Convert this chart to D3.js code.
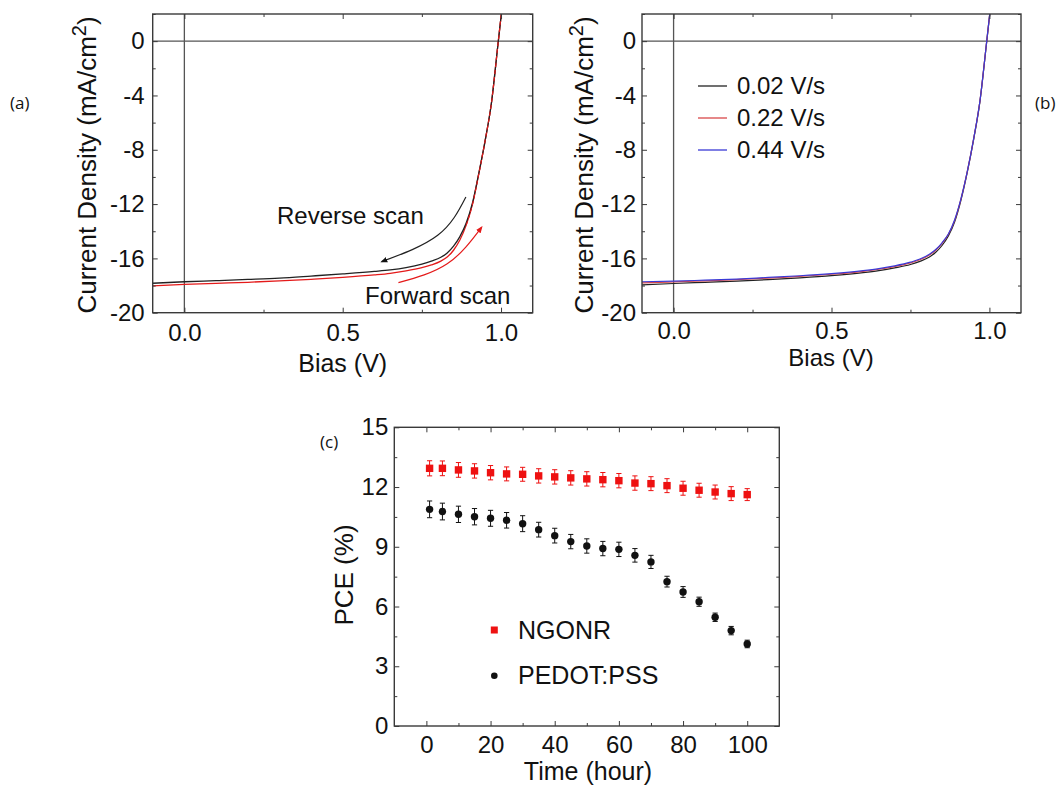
<!DOCTYPE html>
<html>
<head>
<meta charset="utf-8">
<script src="https://cdn.jsdelivr.net/npm/d3@7/dist/d3.min.js"></script>
<style>
  html, body { margin: 0; padding: 0; background: #fff; }
  svg { display: block; }
  text { font-family: "Liberation Sans", Arial, sans-serif; fill: #111; }
  .panel-tag { font-family: "Open Sans", "Noto Sans", sans-serif; font-size: 17px; }
</style>
</head>
<body>
<svg id="chart" width="1062" height="786"></svg>
<script>
// ---------------- DATA ----------------
// Panel (a): J-V curves, reverse vs forward scan
const biasA = [-0.1, 0.0, 0.1, 0.2, 0.3, 0.4, 0.5, 0.6, 0.65, 0.7, 0.75, 0.78, 0.81, 0.83, 0.85, 0.87, 0.89, 0.91, 0.93, 0.95, 0.97, 0.99, 1.0, 1.006];
const reverseJ = [-17.83, -17.72, -17.64, -17.55, -17.45, -17.30, -17.14, -16.96, -16.85, -16.68, -16.42, -16.20, -15.92, -15.60, -15.10, -14.40, -13.40, -11.90, -9.70, -7.30, -4.50, -0.30, 1.80, 3.00];
const forwardJ = [-18.03, -17.92, -17.84, -17.76, -17.66, -17.54, -17.40, -17.22, -17.10, -16.92, -16.68, -16.48, -16.20, -15.90, -15.40, -14.65, -13.55, -12.00, -9.75, -7.30, -4.50, -0.30, 1.80, 3.00];
// arrow annotations (bias, J)
const reverseArrow = [[0.889, -11.48], [0.80, -14.30], [0.623, -16.24]];
const forwardArrow = [[0.676, -17.79], [0.83, -16.40], [0.939, -13.70]];

// Panel (b): J-V curves at different scan rates
const biasB = [-0.1, 0.0, 0.1, 0.2, 0.3, 0.4, 0.5, 0.6, 0.65, 0.7, 0.75, 0.78, 0.81, 0.83, 0.85, 0.87, 0.89, 0.91, 0.93, 0.95, 0.97, 0.99, 1.0, 1.006];
const j002 = [-17.95, -17.85, -17.76, -17.67, -17.56, -17.43, -17.27, -17.05, -16.90, -16.70, -16.45, -16.22, -15.90, -15.55, -15.05, -14.35, -13.30, -11.70, -9.65, -7.25, -4.45, -0.35, 1.75, 3.00];
const j022 = [-17.80, -17.73, -17.65, -17.57, -17.45, -17.33, -17.17, -16.95, -16.80, -16.60, -16.33, -16.10, -15.75, -15.40, -14.90, -14.22, -13.20, -11.62, -9.60, -7.20, -4.40, -0.30, 1.80, 3.00];
const j044 = [-17.72, -17.68, -17.60, -17.52, -17.40, -17.28, -17.12, -16.90, -16.75, -16.55, -16.28, -16.05, -15.70, -15.35, -14.85, -14.20, -13.15, -11.60, -9.60, -7.20, -4.40, -0.30, 1.80, 3.00];
const rateLabels = ["0.02 V/s", "0.22 V/s", "0.44 V/s"];

// Panel (c): PCE vs time
const timeH = [1, 5, 10, 15, 20, 25, 30, 35, 40, 45, 50, 55, 60, 65, 70, 75, 80, 85, 90, 95, 100];
const pceNGONR = [12.94, 12.94, 12.86, 12.81, 12.72, 12.66, 12.64, 12.56, 12.51, 12.46, 12.41, 12.37, 12.32, 12.20, 12.17, 12.07, 11.94, 11.84, 11.75, 11.67, 11.62];
const errNGONR = [0.38, 0.37, 0.37, 0.36, 0.36, 0.35, 0.35, 0.36, 0.36, 0.36, 0.36, 0.36, 0.36, 0.36, 0.35, 0.35, 0.35, 0.35, 0.35, 0.35, 0.30];
const pcePEDOT = [10.88, 10.77, 10.63, 10.51, 10.43, 10.33, 10.16, 9.86, 9.56, 9.26, 9.04, 8.91, 8.87, 8.57, 8.24, 7.25, 6.73, 6.24, 5.46, 4.79, 4.12];
const errPEDOT = [0.42, 0.42, 0.41, 0.41, 0.40, 0.39, 0.40, 0.37, 0.37, 0.36, 0.36, 0.36, 0.36, 0.34, 0.33, 0.27, 0.27, 0.23, 0.21, 0.21, 0.19];
const seriesC = ["NGONR", "PEDOT:PSS"];

// tick values
const jvXTicks = [0.0, 0.5, 1.0];
const jvXMinor = [0.25, 0.75];
const jvYTicks = [0, -4, -8, -12, -16, -20];
const jvYMinor = [2, -2, -6, -10, -14, -18];
const cXTicks = [0, 20, 40, 60, 80, 100];
const cXMinor = [10, 30, 50, 70, 90];
const cYTicks = [0, 3, 6, 9, 12, 15];
const cYMinor = [1.5, 4.5, 7.5, 10.5, 13.5];

// ---------------- DRAW ----------------
const svg = d3.select("#chart");
svg.append("rect").attr("width", 1062).attr("height", 786).attr("fill", "#fff");

const defs = svg.append("defs");
function addArrowMarker(id, color) {
  defs.append("marker").attr("id", id)
    .attr("viewBox", "0 0 10 10").attr("refX", 8).attr("refY", 5)
    .attr("markerWidth", 7).attr("markerHeight", 7)
    .attr("markerUnits", "userSpaceOnUse")
    .attr("orient", "auto")
    .append("path").attr("d", "M0,1 L10,5 L0,9 Z").attr("fill", color);
}
addArrowMarker("arrBlack", "#111");
addArrowMarker("arrRed", "#e41a1a");

const BOX = "#3a3a3a";

function frame(g, x, y, o) {
  const [x0, x1] = x.range();
  const [y0, y1] = y.range();
  // minor ticks
  g.append("g").attr("transform", `translate(0,${y0})`)
    .call(d3.axisBottom(x).tickValues(o.xMinor).tickSize(-3).tickFormat(""))
    .call(s => s.select(".domain").remove());
  g.append("g").attr("transform", `translate(0,${y1})`)
    .call(d3.axisTop(x).tickValues(o.xMinor).tickSize(-3).tickFormat(""))
    .call(s => s.select(".domain").remove());
  g.append("g").attr("transform", `translate(${x0},0)`)
    .call(d3.axisLeft(y).tickValues(o.yMinor).tickSize(-3).tickFormat(""))
    .call(s => s.select(".domain").remove());
  g.append("g").attr("transform", `translate(${x1},0)`)
    .call(d3.axisRight(y).tickValues(o.yMinor).tickSize(-3).tickFormat(""))
    .call(s => s.select(".domain").remove());
  // major ticks with labels
  const bx = g.append("g").attr("transform", `translate(0,${y0})`)
    .call(d3.axisBottom(x).tickValues(o.xTicks).tickSize(-5).tickPadding(o.xPad).tickFormat(o.xFmt));
  bx.select(".domain").remove();
  bx.selectAll("text").attr("font-size", o.tickFont).attr("font-family", "Liberation Sans, Arial, sans-serif").attr("fill", "#111");
  const ly = g.append("g").attr("transform", `translate(${x0},0)`)
    .call(d3.axisLeft(y).tickValues(o.yTicks).tickSize(-5).tickPadding(o.yPad).tickFormat(o.yFmt));
  ly.select(".domain").remove();
  ly.selectAll("text").attr("font-size", o.tickFont).attr("font-family", "Liberation Sans, Arial, sans-serif").attr("fill", "#111");
  g.append("g").attr("transform", `translate(0,${y1})`)
    .call(d3.axisTop(x).tickValues(o.xTicks).tickSize(-5).tickFormat(""))
    .call(s => s.select(".domain").remove());
  g.append("g").attr("transform", `translate(${x1},0)`)
    .call(d3.axisRight(y).tickValues(o.yTicks).tickSize(-5).tickFormat(""))
    .call(s => s.select(".domain").remove());
  g.selectAll(".tick line").attr("stroke", BOX).attr("stroke-width", 1);
  // box
  g.append("rect").attr("x", x0).attr("y", y1).attr("width", x1 - x0).attr("height", y0 - y1)
    .attr("fill", "none").attr("stroke", BOX).attr("stroke-width", 1.4);
}

function yLabelJ(g, cx, cy) {
  const t = g.append("text").attr("transform", `translate(${cx},${cy}) rotate(-90)`)
    .attr("text-anchor", "middle").attr("font-size", 26);
  t.append("tspan").text("Current Density (mA/cm");
  t.append("tspan").attr("font-size", 20).attr("dy", -10).text("2");
  t.append("tspan").attr("dy", 10).text(")");
}

const fmt1 = d3.format(".1f");
const fmtInt = d => String(d);

// ---- Panel (a) ----
{
  const x = d3.scaleLinear().domain([-0.1, 1.1]).range([152.7, 532.7]);
  const y = d3.scaleLinear().domain([-20, 2]).range([312.7, 14]);
  const g = svg.append("g");
  defs.append("clipPath").attr("id", "clipA").append("rect")
    .attr("x", 152.7).attr("y", 14).attr("width", 380).attr("height", 298.7);
  // zero lines
  g.append("line").attr("x1", x(-0.1)).attr("x2", x(1.1)).attr("y1", y(0)).attr("y2", y(0)).attr("stroke", "#555").attr("stroke-width", 1.3);
  g.append("line").attr("x1", x(0)).attr("x2", x(0)).attr("y1", y(-20)).attr("y2", y(2)).attr("stroke", "#555").attr("stroke-width", 1.3);
  const line = d3.line().x(d => x(d[0])).y(d => y(d[1])).curve(d3.curveMonotoneX);
  const cg = g.append("g").attr("clip-path", "url(#clipA)");
  cg.append("path").datum(biasA.map((v, i) => [v, forwardJ[i]])).attr("d", line)
    .attr("fill", "none").attr("stroke", "#e41a1a").attr("stroke-width", 1.3);
  cg.append("path").datum(biasA.map((v, i) => [v, reverseJ[i]])).attr("d", line)
    .attr("fill", "none").attr("stroke", "#222").attr("stroke-width", 1.3);
  // dashed red overlay on steep part (red visible over black)
  cg.append("path").datum(biasA.map((v, i) => [v, forwardJ[i]]).filter(d => d[0] >= 0.89)).attr("d", line)
    .attr("fill", "none").attr("stroke", "#e41a1a").attr("stroke-width", 1.1).attr("stroke-dasharray", "4,3");
  frame(g, x, y, { xTicks: jvXTicks, xMinor: jvXMinor, yTicks: jvYTicks, yMinor: jvYMinor,
    xFmt: fmt1, yFmt: fmtInt, xPad: 11, yPad: 8, tickFont: 24 });
  // arrows
  const aline = d3.line().x(d => x(d[0])).y(d => y(d[1])).curve(d3.curveNatural);
  g.append("path").datum(reverseArrow).attr("d", aline).attr("fill", "none")
    .attr("stroke", "#222").attr("stroke-width", 1.2).attr("marker-end", "url(#arrBlack)");
  g.append("path").datum(forwardArrow).attr("d", aline).attr("fill", "none")
    .attr("stroke", "#e41a1a").attr("stroke-width", 1.2).attr("marker-end", "url(#arrRed)");
  g.append("text").attr("x", 277).attr("y", 224).attr("font-size", 24).text("Reverse scan");
  g.append("text").attr("x", 365).attr("y", 304).attr("font-size", 24).text("Forward scan");
  g.append("text").attr("x", 342.7).attr("y", 372).attr("text-anchor", "middle").attr("font-size", 25).text("Bias (V)");
  yLabelJ(g, 96, 165);
}

// ---- Panel (b) ----
{
  const x = d3.scaleLinear().domain([-0.1, 1.1]).range([642, 1021]);
  const y = d3.scaleLinear().domain([-20, 2]).range([312.7, 14]);
  const g = svg.append("g");
  defs.append("clipPath").attr("id", "clipB").append("rect")
    .attr("x", 642).attr("y", 14).attr("width", 379).attr("height", 298.7);
  g.append("line").attr("x1", x(-0.1)).attr("x2", x(1.1)).attr("y1", y(0)).attr("y2", y(0)).attr("stroke", "#555").attr("stroke-width", 1.3);
  g.append("line").attr("x1", x(0)).attr("x2", x(0)).attr("y1", y(-20)).attr("y2", y(2)).attr("stroke", "#555").attr("stroke-width", 1.3);
  const line = d3.line().x(d => x(d[0])).y(d => y(d[1])).curve(d3.curveMonotoneX);
  const cg = g.append("g").attr("clip-path", "url(#clipB)");
  const colorsB = ["#222", "#d9474a", "#3a3ad6"];
  [j002, j022, j044].forEach((arr, k) => {
    cg.append("path").datum(biasB.map((v, i) => [v, arr[i]])).attr("d", line)
      .attr("fill", "none").attr("stroke", colorsB[k]).attr("stroke-width", 1.2);
  });
  frame(g, x, y, { xTicks: jvXTicks, xMinor: jvXMinor, yTicks: jvYTicks, yMinor: jvYMinor,
    xFmt: fmt1, yFmt: fmtInt, xPad: 9, yPad: 6, tickFont: 24 });
  // legend
  rateLabels.forEach((lab, k) => {
    const ly = 86 + k * 32;
    g.append("line").attr("x1", 698).attr("x2", 727).attr("y1", ly).attr("y2", ly)
      .attr("stroke", colorsB[k]).attr("stroke-width", 1.3);
    g.append("text").attr("x", 737).attr("y", ly + 8).attr("font-size", 24).text(lab);
  });
  g.append("text").attr("x", 831).attr("y", 366).attr("text-anchor", "middle").attr("font-size", 24).text("Bias (V)");
  yLabelJ(g, 593, 165);
}

// ---- Panel (c) ----
{
  const x = d3.scaleLinear().domain([-10, 110]).range([394.3, 779.3]);
  const y = d3.scaleLinear().domain([0, 15]).range([726, 427.3]);
  const g = svg.append("g");
  frame(g, x, y, { xTicks: cXTicks, xMinor: cXMinor, yTicks: cYTicks, yMinor: cYMinor,
    xFmt: fmtInt, yFmt: fmtInt, xPad: 10, yPad: 6, tickFont: 24 });
  const series = [
    { name: seriesC[0], vals: pceNGONR, err: errNGONR, color: "#ee1111" },
    { name: seriesC[1], vals: pcePEDOT, err: errPEDOT, color: "#111" }
  ];
  series.forEach((s, k) => {
    const sg = g.append("g");
    const pts = timeH.map((t, i) => ({ t, v: s.vals[i], e: s.err[i] }));
    sg.selectAll("line.eb").data(pts).join("line").attr("class", "eb")
      .attr("x1", d => x(d.t)).attr("x2", d => x(d.t))
      .attr("y1", d => y(d.v - d.e)).attr("y2", d => y(d.v + d.e))
      .attr("stroke", s.color).attr("stroke-width", 1);
    ["lo", "hi"].forEach(side => {
      sg.selectAll("line.cap" + side).data(pts).join("line").attr("class", "cap" + side)
        .attr("x1", d => x(d.t) - 2.6).attr("x2", d => x(d.t) + 2.6)
        .attr("y1", d => y(side === "lo" ? d.v - d.e : d.v + d.e))
        .attr("y2", d => y(side === "lo" ? d.v - d.e : d.v + d.e))
        .attr("stroke", s.color).attr("stroke-width", 1);
    });
    if (k === 0) {
      sg.selectAll("rect.m").data(pts).join("rect").attr("class", "m")
        .attr("x", d => x(d.t) - 3.7).attr("y", d => y(d.v) - 3.7)
        .attr("width", 7.4).attr("height", 7.4).attr("fill", s.color);
    } else {
      sg.selectAll("circle.m").data(pts).join("circle").attr("class", "m")
        .attr("cx", d => x(d.t)).attr("cy", d => y(d.v)).attr("r", 3.7).attr("fill", s.color);
    }
  });
  // legend
  g.append("rect").attr("x", 494.3 - 3.5).attr("y", 630 - 3.5).attr("width", 7).attr("height", 7).attr("fill", "#ee1111");
  g.append("text").attr("x", 518).attr("y", 638.5).attr("font-size", 25).text(seriesC[0]);
  g.append("circle").attr("cx", 494.3).attr("cy", 675.7).attr("r", 3.3).attr("fill", "#111");
  g.append("text").attr("x", 518).attr("y", 684).attr("font-size", 25).text(seriesC[1]);
  g.append("text").attr("x", 588).attr("y", 780).attr("text-anchor", "middle").attr("font-size", 25).text("Time (hour)");
  g.append("text").attr("transform", "translate(353,575) rotate(-90)").attr("text-anchor", "middle")
    .attr("font-size", 26).text("PCE (%)");
}

// panel tags
svg.append("text").attr("class", "panel-tag").attr("x", 10).attr("y", 109).text("(a)");
svg.append("text").attr("class", "panel-tag").attr("x", 1035).attr("y", 109).text("(b)");
svg.append("text").attr("class", "panel-tag").attr("x", 320).attr("y", 448).text("(c)");
</script>
</body>
</html>
